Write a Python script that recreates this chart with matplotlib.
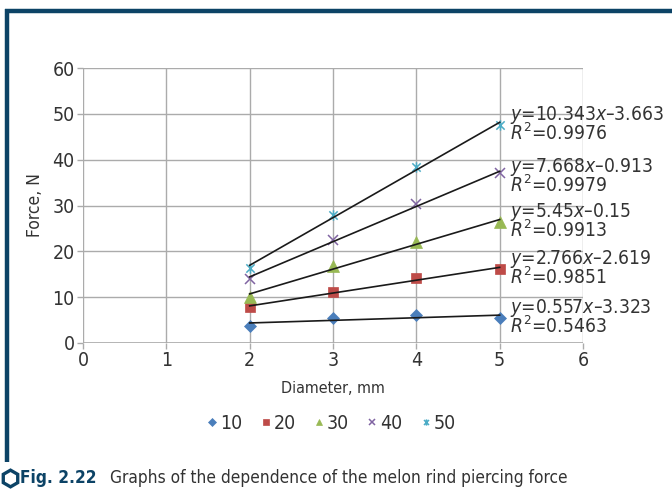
import numpy as np
import matplotlib
matplotlib.use("Agg")
import matplotlib.pyplot as plt
from matplotlib.path import Path
from matplotlib.lines import Line2D

plt.rcParams['font.family'] = ['DejaVu Sans']
plt.rcParams['font.stretch'] = 'condensed'
plt.rcParams['mathtext.fontset'] = 'custom'
plt.rcParams['mathtext.it'] = 'DejaVu Sans:italic:stretch=condensed'
plt.rcParams['mathtext.rm'] = 'DejaVu Sans:stretch=condensed'

# Measured piercing force (N) versus diameter (mm) for each series
diameter = [2, 3, 4, 5]
series_names = ["10", "20", "30", "40", "50"]
force_10 = [3.8, 5.5, 6.1, 5.5]
force_20 = [7.8, 11.1, 14.2, 16.1]
force_30 = [10.0, 16.9, 22.1, 26.3]
force_40 = [14.0, 22.5, 30.3, 37.0]
force_50 = [16.4, 27.9, 38.3, 47.6]

equations = ["y=0.557x–3.323", "y=2.766x–2.619", "y=5.45x–0.15",
             "y=7.668x–0.913", "y=10.343x–3.663"]
r_squared = ["0.5463", "0.9851", "0.9913", "0.9979", "0.9976"]

x_ticks = [0, 1, 2, 3, 4, 5, 6]
y_ticks = [0, 10, 20, 30, 40, 50, 60]

# Styling
colors = ["#4a7ebb", "#be4b48", "#98b954", "#8064a2", "#4bacc6"]
star = Path([(-1, -1), (1, 1), (-1, 1), (1, -1), (0, -1.25), (0, 1.25)],
            [Path.MOVETO, Path.LINETO, Path.MOVETO, Path.LINETO, Path.MOVETO, Path.LINETO])
markers = ["D", "s", "^", "x", star]
msizes = [6.5, 7.5, 8, 7, 7.5]
label_y = [5.7, 16.3, 26.6, 36.4, 47.8]
frame_blue = "#0c4366"
grid_c = "#ababab"
text_c = "#333333"

fig = plt.figure(figsize=(6.72, 4.90), dpi=100)
ax = fig.add_axes([83 / 672, 1 - 343 / 490, 500 / 672, 275 / 490])

all_force = [force_10, force_20, force_30, force_40, force_50]
for name, f, c, m, ms, ly, eq, r2 in zip(series_names, all_force, colors, markers,
                                          msizes, label_y, equations, r_squared):
    x = np.array(diameter, dtype=float)
    y = np.array(f, dtype=float)
    line_marker = m == "x" or m is star
    ax.plot(x, y, linestyle="none", marker=m, color=c, markersize=ms,
            markeredgewidth=1.1 if line_marker else 0.5,
            label=name, zorder=3, clip_on=False)
    k, b = np.polyfit(x, y, 1)
    ax.plot([x[0], x[-1]], [k * x[0] + b, k * x[-1] + b], color="#1a1a1a",
            lw=1.2, zorder=4)
    eq_tex = eq.replace("y", r"$\mathit{y}$").replace("x", r"$\mathit{x}$")
    ax.text(5.13, ly, eq_tex + "\n" + r"$\mathit{R}^2$=" + r2, fontsize=13.8,
            color=text_c, va="center", ha="left", linespacing=0.78, zorder=5,
            clip_on=False)

ax.set_xlim(0, 6)
ax.set_ylim(0, 60)
ax.set_xticks(x_ticks)
ax.set_yticks(y_ticks)
ax.grid(True, color=grid_c, lw=1.0)
ax.set_axisbelow(True)
for s in ax.spines.values():
    s.set_visible(False)
ax.axhline(0, color=grid_c, lw=1.2, zorder=1)
ax.axvline(0, color=grid_c, lw=1.2, zorder=1)
ax.tick_params(axis="both", colors=grid_c, labelcolor=text_c, labelsize=14,
               length=4, width=1.0, pad=2)
ax.set_xlabel("Diameter, mm", fontsize=11.5, color=text_c, labelpad=8)
ax.set_ylabel("Force, N", fontsize=12.5, color=text_c, labelpad=6)

fig.legend(*ax.get_legend_handles_labels(), loc="center", ncol=5,
           bbox_to_anchor=(331 / 672, 1 - 423 / 490), frameon=False,
           fontsize=14, handlelength=0.6, handletextpad=0.1,
           columnspacing=0.9, markerscale=0.6, labelcolor=text_c)

# Page frame around the figure
fig.add_artist(Line2D([6.5 / 672, 6.5 / 672], [1 - 9 / 490, 1 - 462 / 490],
                      color=frame_blue, lw=3.2, transform=fig.transFigure,
                      solid_capstyle="butt"))
fig.add_artist(Line2D([5 / 672, 1.0], [1 - 11 / 490, 1 - 11 / 490],
                      color=frame_blue, lw=3.2, transform=fig.transFigure,
                      solid_capstyle="butt"))

# Caption
fig.add_artist(Line2D([10 / 672], [1 - 478 / 490], marker="h", markersize=12,
                      markerfacecolor="white", markeredgecolor=frame_blue,
                      markeredgewidth=2.4, transform=fig.transFigure))
fig.text(20 / 672, 1 - 478 / 490, "Fig. 2.22", fontsize=12.3, fontweight="bold",
         color=frame_blue, va="center", ha="left")
fig.text(110 / 672, 1 - 478 / 490,
         "Graphs of the dependence of the melon rind piercing force",
         fontsize=12.4, color=text_c, va="center", ha="left")

fig.savefig("out.png", dpi=100)
